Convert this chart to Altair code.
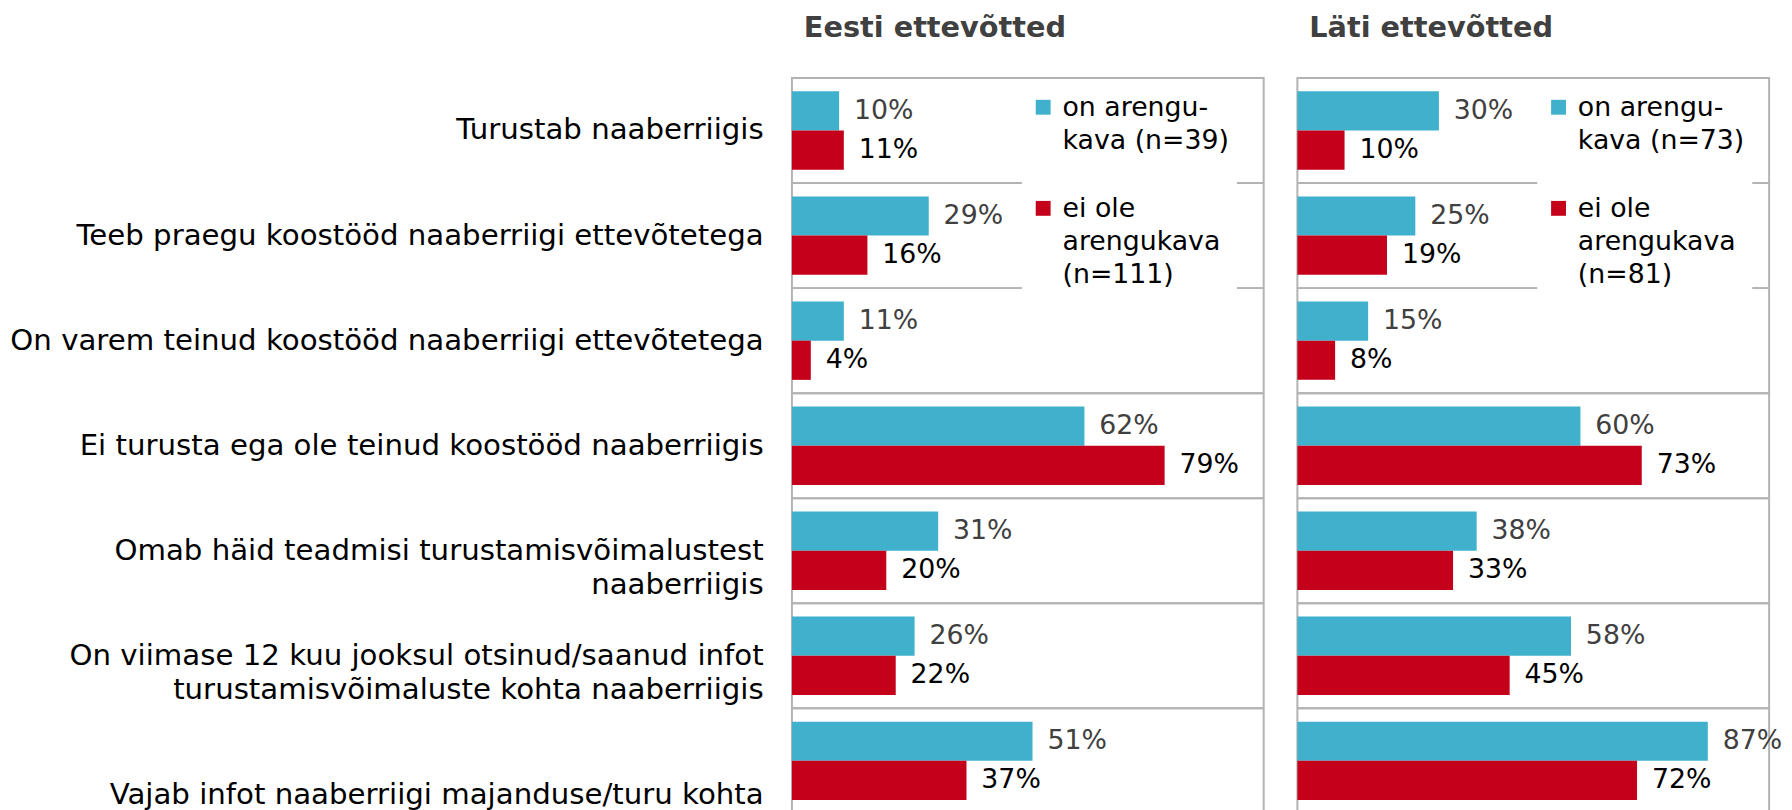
import altair as alt
import pandas as pd

# ---- data ----
categories = [
    "Turustab naaberriigis",
    "Teeb praegu koostööd naaberriigi ettevõtetega",
    "On varem teinud koostööd naaberriigi ettevõtetega",
    "Ei turusta ega ole teinud koostööd naaberriigis",
    "Omab häid teadmisi turustamisvõimalustest\nnaaberriigis",
    "On viimase 12 kuu jooksul otsinud/saanud infot\nturustamisvõimaluste kohta naaberriigis",
    "\nVajab infot naaberriigi majanduse/turu kohta",
]
series_kind = ["on", "ei"]
eesti_series = ["on arengu-\nkava (n=39)", "ei ole\narengukava\n(n=111)"]
lati_series = ["on arengu-\nkava (n=73)", "ei ole\narengukava\n(n=81)"]
eesti_on = [10, 29, 11, 62, 31, 26, 51]
eesti_ei = [11, 16, 4, 79, 20, 22, 37]
lati_on = [30, 25, 15, 60, 38, 58, 87]
lati_ei = [10, 19, 8, 73, 33, 45, 72]
panel_titles = ["Eesti ettevõtted", "Läti ettevõtted"]

BLUE = "#3FB1CD"
RED = "#C4001A"
GRID = "#B3B3B3"
FONT = "DejaVu Sans"
W, H = 476, 742


def make_df(on_vals, ei_vals, names):
    rows = []
    for c, v in zip(categories, on_vals):
        rows.append({"kategooria": c, "kind": "on", "seeria": names[0], "pct": v})
    for c, v in zip(categories, ei_vals):
        rows.append({"kategooria": c, "kind": "ei", "seeria": names[1], "pct": v})
    return pd.DataFrame(rows)


def panel(df, names, title, show_labels, legend_x):
    if show_labels:
        y_axis = alt.Axis(
            title=None, ticks=False, domain=False, grid=False,
            labelFont=FONT, labelFontSize=29.5, labelColor="#000000",
            labelLimit=0, labelPadding=29, labelBaseline="alphabetic",
            labelOffset=9, labelLineHeight=35,
            labelExpr="split(datum.label, '\\n')",
        )
    else:
        y_axis = None
    yscale = alt.Scale(paddingInner=0, paddingOuter=0)
    y = alt.Y("kategooria:N", sort=categories, scale=yscale, axis=y_axis)
    y_rule = alt.Y("kategooria:N", sort=categories, scale=yscale, axis=y_axis, bandPosition=0)
    yoff = alt.YOffset("kind:N", sort=series_kind,
                       scale=alt.Scale(paddingInner=0, paddingOuter=0.34))
    x = alt.X("pct:Q", scale=alt.Scale(domain=[0, 100]), axis=None)

    base = alt.Chart(df)
    rules = base.mark_rule(color=GRID, strokeWidth=2).encode(y=y_rule)
    bars = base.mark_bar().encode(
        y=y, yOffset=yoff, x=x,
        color=alt.Color(
            "seeria:N",
            scale=alt.Scale(domain=names, range=[BLUE, RED]),
            legend=alt.Legend(
                title=None, orient="none", legendX=legend_x, legendY=17,
                symbolType="M-1,-2.2H1V-0.2H-1Z", symbolSize=225,
                symbolStrokeWidth=0, labelFont=FONT, labelFontSize=27,
                labelColor="#000000", labelBaseline="alphabetic",
                labelLimit=0, labelOffset=6, rowPadding=41,
                labelExpr="split(datum.label, '\\n')",
                fillColor="white", padding=8,
            ),
        ),
    )
    texts = base.mark_text(
        align="left", baseline="middle", dx=15, font=FONT, fontSize=27
    ).encode(
        y=y, yOffset=yoff, x=x,
        text="label:N",
        color=alt.condition(alt.datum.kind == "on", alt.value("#404040"), alt.value("#000000")),
    ).transform_calculate(label="datum.pct + '%'")

    return alt.layer(rules, bars, texts).properties(
        width=W, height=H,
        title=alt.Title(title, anchor="start", frame="group", dx=12, font=FONT,
                        fontSize=29, fontWeight="bold", color="#404040", offset=34),
    )


left = panel(make_df(eesti_on, eesti_ei, eesti_series), eesti_series, panel_titles[0], True, 232)
right = panel(make_df(lati_on, lati_ei, lati_series), lati_series, panel_titles[1], False, 242)

chart = alt.hconcat(left, right, spacing=30).resolve_scale(
    color="independent"
).properties(padding={"top": 2, "left": 0, "right": 0, "bottom": 0}).configure(
    style={"guide-label": {"lineHeight": 33}}
).configure_view(stroke=GRID, strokeWidth=2)

chart.save("out.html", embed_options={"renderer": "svg", "actions": False})
